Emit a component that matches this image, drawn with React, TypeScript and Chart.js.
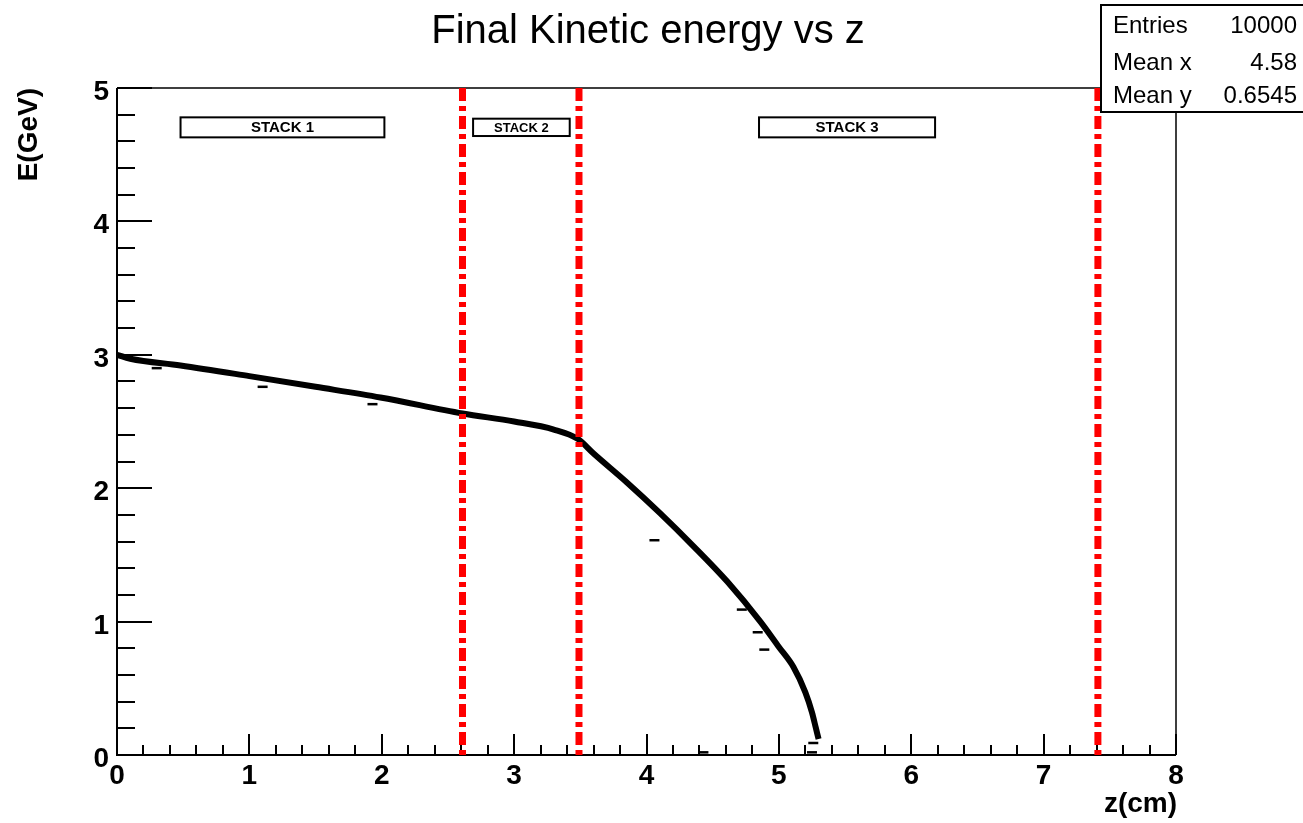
import { useEffect, useRef } from "react";
import { Chart, registerables } from "chart.js";

Chart.register(...registerables);

// ---------------- data ----------------
const titleText = "Final Kinetic energy vs z";
const xAxisTitle = "z(cm)";
const yAxisTitle = "E(GeV)";

const curveZ = [0, 0.1, 0.48, 1.0, 1.5, 1.99, 2.61, 3.0, 3.3, 3.48, 3.6, 3.85, 4.1, 4.35, 4.61, 4.86, 5.0, 5.11, 5.2, 5.25, 5.28, 5.3];
const curveE = [3.0, 2.97, 2.92, 2.84, 2.76, 2.68, 2.56, 2.5, 2.44, 2.37, 2.26, 2.045, 1.815, 1.57, 1.3, 1.0, 0.81, 0.66, 0.47, 0.32, 0.2, 0.12];

const outlierZ = [0.3, 1.1, 1.93, 4.06, 4.72, 4.84, 4.89, 5.26, 4.43, 5.25];
const outlierE = [2.9, 2.76, 2.63, 1.61, 1.09, 0.92, 0.79, 0.09, 0.02, 0.02];

const boundaryZ = [2.61, 3.49, 7.41];

const stackNames = ["STACK 1", "STACK 2", "STACK 3"];
const stackStartZ = [0.48, 2.69, 4.85];
const stackEndZ = [2.02, 3.42, 6.18];
const stackTopE = [4.78, 4.77, 4.78];
const stackBottomE = [4.63, 4.64, 4.63];

const xTickValues = [0, 1, 2, 3, 4, 5, 6, 7, 8];
const xTickLabels = ["0", "1", "2", "3", "4", "5", "6", "7", "8"];
const yTickValues = [0, 1, 2, 3, 4, 5];
const yTickLabels = ["0", "1", "2", "3", "4", "5"];

const statsLabels = ["Entries", "Mean x", "Mean y"];
const statsValues = ["10000", "4.58", "0.6545"];

// ---------------- styles ----------------
const FONT = "'Liberation Sans', Arial, Helvetica, sans-serif";
const stackFontSizes = [15, 13, 15];

const framePlugin = {
  id: "rootFrame",
  beforeDatasetsDraw(chart: any) {
    const { ctx, chartArea, scales } = chart;
    const xs = scales.x;
    const ys = scales.y;
    const { left, right, top, bottom } = chartArea;
    ctx.save();
    ctx.strokeStyle = "#000";
    ctx.lineWidth = 1.5;
    ctx.beginPath();
    ctx.moveTo(left, top);
    ctx.lineTo(right, top);
    ctx.lineTo(right, bottom);
    ctx.stroke();
    ctx.lineWidth = 2;
    ctx.beginPath();
    ctx.moveTo(left, top);
    ctx.lineTo(left, bottom);
    ctx.lineTo(right, bottom);
    ctx.stroke();
    ctx.lineWidth = 2;
    ctx.beginPath();
    const xmin = xs.min, xmax = xs.max;
    for (let i = 0; i <= Math.round((xmax - xmin) * 5); i++) {
      const v = xmin + i * 0.2;
      const px = Math.round(xs.getPixelForValue(v));
      const major = i % 5 === 0;
      const len = major ? 21 : 10;
      ctx.moveTo(px, bottom);
      ctx.lineTo(px, bottom - len);
    }
    ctx.stroke();
    ctx.beginPath();
    const ymin = ys.min, ymax = ys.max;
    for (let i = 0; i <= Math.round((ymax - ymin) * 5); i++) {
      const v = ymin + i * 0.2;
      const py = Math.round(ys.getPixelForValue(v));
      const major = i % 5 === 0;
      const len = major ? 35 : 18;
      ctx.moveTo(left, py);
      ctx.lineTo(left + len, py);
    }
    ctx.stroke();
    ctx.restore();
  },
  afterDraw(chart: any) {
    const { ctx, chartArea, scales } = chart;
    const xs = scales.x;
    const ys = scales.y;
    ctx.save();
    ctx.fillStyle = "#000";
    ctx.font = `bold 28px ${FONT}`;
    ctx.textAlign = "center";
    ctx.textBaseline = "alphabetic";
    xTickValues.forEach((v, i) => {
      ctx.fillText(xTickLabels[i], xs.getPixelForValue(v), chartArea.bottom + 29);
    });
    ctx.textAlign = "right";
    yTickValues.forEach((v, i) => {
      ctx.fillText(yTickLabels[i], chartArea.left - 8, ys.getPixelForValue(v) + 12);
    });
    ctx.textAlign = "right";
    ctx.fillText(xAxisTitle, chartArea.right + 1, chartArea.bottom + 57);
    ctx.save();
    ctx.translate(37, chartArea.top);
    ctx.rotate(-Math.PI / 2);
    ctx.textAlign = "right";
    ctx.fillText(yAxisTitle, 0, 0);
    ctx.restore();
    ctx.font = `40px ${FONT}`;
    ctx.textAlign = "center";
    ctx.fillText(titleText, 648, 43);
    stackNames.forEach((name, i) => {
      const x0 = xs.getPixelForValue(stackStartZ[i]);
      const x1 = xs.getPixelForValue(stackEndZ[i]);
      const y0 = ys.getPixelForValue(stackTopE[i]);
      const y1 = ys.getPixelForValue(stackBottomE[i]);
      ctx.fillStyle = "#fff";
      ctx.fillRect(x0, y0, x1 - x0, y1 - y0);
      ctx.strokeStyle = "#000";
      ctx.lineWidth = 2;
      ctx.strokeRect(x0, y0, x1 - x0, y1 - y0);
      ctx.fillStyle = "#000";
      ctx.font = `bold ${stackFontSizes[i]}px ${FONT}`;
      ctx.textAlign = "center";
      ctx.textBaseline = "middle";
      ctx.fillText(name, (x0 + x1) / 2, (y0 + y1) / 2 + 1);
    });
    ctx.textBaseline = "alphabetic";
    ctx.fillStyle = "#fff";
    ctx.fillRect(1101, 5, 210, 107);
    ctx.strokeStyle = "#000";
    ctx.lineWidth = 2;
    ctx.strokeRect(1101, 5, 210, 107);
    ctx.fillStyle = "#000";
    ctx.font = `24px ${FONT}`;
    const baselines = [33, 70, 103];
    statsLabels.forEach((lab, i) => {
      ctx.textAlign = "left";
      ctx.fillText(lab, 1113, baselines[i]);
      ctx.textAlign = "right";
      ctx.fillText(statsValues[i], 1297, baselines[i]);
    });
    ctx.restore();
  },
};

export default function App() {
  const ref = useRef<HTMLCanvasElement | null>(null);
  useEffect(() => {
    document.body.style.margin = "0";
    const canvas = ref.current;
    if (!canvas) return;
    const boundaryDatasets = boundaryZ.map((z) => ({
      type: "line" as const,
      data: [
        { x: z, y: 5 },
        { x: z, y: 0 },
      ],
      borderColor: "#ff0000",
      borderWidth: 7,
      borderDash: [13, 5, 5, 5],
      borderCapStyle: "butt",
      pointRadius: 0,
      fill: false,
      order: 1,
    }));
    const chart = new Chart(canvas, {
      type: "line",
      data: {
        datasets: [
          {
            type: "line",
            data: curveZ.map((z, i) => ({ x: z, y: curveE[i] })),
            borderColor: "#000",
            borderWidth: 6,
            pointRadius: 0,
            cubicInterpolationMode: "monotone",
            fill: false,
            order: 2,
          },
          {
            type: "scatter",
            data: outlierZ.map((z, i) => ({ x: z, y: outlierE[i] })),
            pointStyle: "line",
            pointRadius: 5,
            borderColor: "#000",
            backgroundColor: "#000",
            borderWidth: 2.5,
            order: 2,
          },
          ...boundaryDatasets,
        ] as any,
      },
      options: {
        animation: false,
        responsive: false,
        devicePixelRatio: 1,
        layout: { padding: { left: 117, right: 127, top: 88, bottom: 68 } },
        plugins: {
          legend: { display: false },
          title: { display: false },
          tooltip: { enabled: false },
        },
        scales: {
          x: { type: "linear", min: 0, max: 8, display: false },
          y: { type: "linear", min: 0, max: 5, display: false },
        },
      },
      plugins: [framePlugin],
    });
    return () => chart.destroy();
  }, []);
  return (
    <div style={{ position: "absolute", left: 0, top: 0, width: 1303, height: 823, background: "#fff" }}>
      <canvas ref={ref} width={1303} height={823} />
    </div>
  );
}
